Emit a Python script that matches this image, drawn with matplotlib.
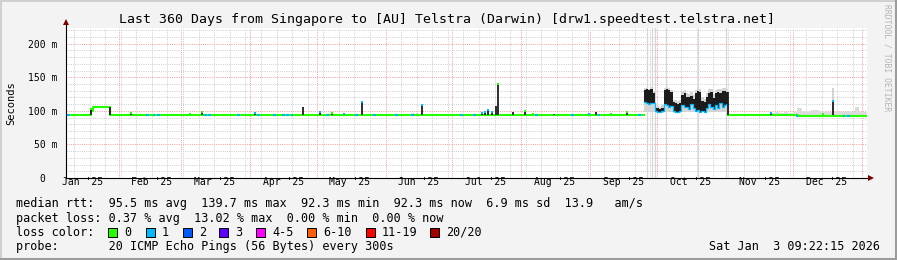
import matplotlib
matplotlib.use("Agg")
import matplotlib.pyplot as plt
import matplotlib.dates as mdates
from matplotlib.lines import Line2D
from matplotlib.patches import Rectangle
from matplotlib.ticker import MultipleLocator, FuncFormatter
import numpy as np
import pandas as pd

W, H = 897, 260
MONO = "DejaVu Sans Mono"

t_end = pd.Timestamp("2026-01-03 09:22:15")
t_start = t_end - pd.Timedelta(days=360)

title = "Last 360 Days from Singapore to [AU] Telstra (Darwin) [drw1.speedtest.telstra.net]"

# loss colours
loss_labels = ["0", "1", "2", "3", "4-5", "6-10", "11-19", "20/20"]
loss_colors = ["#26ff00", "#00b8ff", "#0059ff", "#5e00ff", "#ff00ff", "#ff5e00", "#ff0000", "#a10000"]

# median rtt with 0 loss, step series (ms); NaN where the busy period is drawn
green_dates = ["2025-01-08 09:22", "2025-01-19 18:00", "2025-01-20 12:00", "2025-01-28 03:00",
               "2025-09-25 00:00", "2025-11-02 00:00", "2025-12-03 06:00", "2026-01-03 09:22"]
green_ms = [93.5, 100, 105, 93.5, np.nan, 93.5, 92.3, 92.3]

# short stretches of the median with 1 lost ping
blue_dates = ["2025-01-09 12:00", "2025-02-14", "2025-02-17", "2025-02-19", "2025-03-12", "2025-03-14",
              "2025-03-27", "2025-04-05", "2025-04-12", "2025-04-16", "2025-04-18", "2025-04-20",
              "2025-05-06", "2025-05-19", "2025-05-27", "2025-06-06", "2025-06-13", "2025-07-05",
              "2025-07-11", "2025-08-08", "2025-08-24", "2025-09-05", "2025-09-23",
              "2025-12-03", "2025-12-24", "2025-12-26"]
blue_ms = [93.5] * 23 + [92.3] * 3

# dark smoke spikes: date, top (ms), loss colour of the tip (-1 = none)
spike_dates = ["2025-01-19 20:00", "2025-01-28 01:00", "2025-02-06 10:00", "2025-03-04 22:00",
               "2025-03-10 12:00", "2025-04-03 12:00", "2025-04-24 18:00", "2025-05-02 12:00",
               "2025-05-08 00:00", "2025-05-13 12:00", "2025-05-21 12:00", "2025-06-17 12:00",
               "2025-07-14 12:00", "2025-07-15 18:00", "2025-07-17 00:00", "2025-07-18 18:00",
               "2025-07-20 12:00", "2025-07-21 12:00", "2025-07-28 12:00", "2025-08-02 12:00",
               "2025-08-06 12:00", "2025-08-15 12:00", "2025-08-31 12:00", "2025-09-03 12:00",
               "2025-09-10 12:00", "2025-09-17 12:00", "2025-11-02 00:00", "2025-11-21 06:00",
               "2025-12-14 18:00", "2025-12-19 00:00"]
spike_top = [103, 105, 97, 95, 98, 97, 106, 98, 97, 96, 113, 108, 97, 98, 101, 98,
             107, 139.7, 98, 100, 95, 96, 95, 99, 95, 99, 128, 97.5, 96, 115]
spike_tip = [0, -1, 0, 0, 0, 1, -1, 1, 0, 1, 1, 1, 1, 1, 1, 1,
             -1, 0, -1, 0, 0, -1, 1, -1, 0, 0, -1, 1, 0, 1]

# light smoke spikes (ms)
haze_spike_dates = ["2025-06-13 12:00", "2025-06-15 06:00", "2025-12-19 00:00"]
haze_spike_top = [97, 97.5, 134]

# busy period, one value per day from Sep 25 to Nov 1
busy_start = "2025-09-25"
busy_top = [131, 132, 131, 133, 127, 104, 104, 103, 104, 131, 133, 131, 128, 113, 112, 110, 112, 124, 126,
            121, 120, 122, 118, 126, 130, 128, 114, 113, 120, 127, 128, 119, 126, 128, 127, 129, 130, 128]
busy_med = [113, 112, 110, 112, 111, 100, 99, 99, 100, 110, 108, 106, 107, 100, 99, 98, 100, 108, 105,
            106, 103, 110, 104, 100, 101, 99, 100, 99, 104, 110, 106, 103, 108, 104, 112, 106, 108, 110]
busy_haze = [134, 134, 133, 135, 130, 106, 107, 106, 108, 134, 135, 134, 131, 116, 116, 114, 116, 130, 131,
             126, 125, 128, 124, 131, 134, 133, 120, 118, 126, 132, 133, 125, 131, 133, 132, 134, 134, 132]
busy_low = [99, 99, 98, 99, 98, 97, 97, 97, 97, 98, 98, 98, 98, 97, 97, 97, 97, 98, 98,
            98, 98, 98, 98, 98, 98, 98, 98, 97, 98, 98, 98, 98, 98, 98, 98, 98, 98, 98]

# light smoke late in the year
haze_dates = ["2025-11-21", "2025-11-23", "2025-11-25", "2025-11-27", "2025-11-29", "2025-12-01",
              "2025-12-03", "2025-12-05", "2025-12-07", "2025-12-09", "2025-12-11", "2025-12-13",
              "2025-12-15", "2025-12-17", "2025-12-19", "2025-12-21", "2025-12-23", "2025-12-25",
              "2025-12-27", "2025-12-29", "2025-12-31", "2026-01-03 09:22"]
haze_top = [97, 98, 97, 98, 97, 98, 104, 99, 100, 101, 102, 100, 99, 98, 99, 99, 98, 100, 99, 106, 99, 98]

# pings far off scale, full-height light streaks
streak_dates = ["2025-09-26 12:00", "2025-09-28 18:00", "2025-09-30 00:00",
                "2025-10-05 00:00", "2025-10-19 12:00", "2025-11-01 00:00"]

month_labels = ["Jan '25", "Feb '25", "Mar '25", "Apr '25", "May '25", "Jun '25",
                "Jul '25", "Aug '25", "Sep '25", "Oct '25", "Nov '25", "Dec '25"]
label_dates = ["2025-01-16", "2025-02-16", "2025-03-16", "2025-04-16", "2025-05-16", "2025-06-16",
               "2025-07-16", "2025-08-16", "2025-09-16", "2025-10-16", "2025-11-16", "2025-12-16"]

stats_rtt = "median rtt:  95.5 ms avg  139.7 ms max  92.3 ms min  92.3 ms now  6.9 ms sd  13.9   am/s"
stats_loss = "packet loss: 0.37 % avg  13.02 % max  0.00 % min  0.00 % now"
probe_text = "probe:       20 ICMP Echo Pings (56 Bytes) every 300s"
stamp = "Sat Jan  3 09:22:15 2026"


def dn(lst):
    return mdates.date2num(pd.to_datetime(lst, format="mixed").to_numpy())


def fx(px):
    return px / W


def fy(py):
    return 1 - py / H


fig = plt.figure(figsize=(W / 100, H / 100), dpi=100, facecolor="#f3f3f3")
ax = fig.add_axes([fx(66), fy(178), 801 / W, 150 / H])
ax.set_facecolor("white")

x0, x1 = mdates.date2num([t_start.to_pydatetime(), t_end.to_pydatetime()])
ax.set_xlim(x0, x1)
ax.set_ylim(0, 223.4)

# grid
ax.xaxis.set_major_locator(mdates.MonthLocator())
ax.xaxis.set_minor_locator(mdates.WeekdayLocator(byweekday=mdates.SU))
ax.yaxis.set_major_locator(MultipleLocator(50))
ax.yaxis.set_minor_locator(MultipleLocator(10))
ax.grid(which="minor", color="#cfcfcf", lw=0.72, ls=(0, (1, 1.2)))
ax.grid(which="major", color="#f0a0a0", lw=0.72, ls=(0, (1, 1.2)))
ax.set_axisbelow(True)
ax.tick_params(which="both", length=0)
ax.tick_params(axis="x", labelbottom=False)
ax.yaxis.set_major_formatter(FuncFormatter(lambda v, _: "0  " if v == 0 else f"{int(v)} m"))
ax.tick_params(axis="y", pad=6.0, labelsize=7)
for lab in ax.get_yticklabels():
    lab.set_fontfamily(MONO)
for s in ax.spines.values():
    s.set_visible(False)

# far off-scale streaks
for d in dn(streak_dates):
    ax.axvline(d, color="#d6d6d6", lw=0.9, zorder=1)

# late-year light smoke
hz_x = dn(haze_dates)
ax.fill_between(hz_x, 92.3, haze_top, step="post", color="#dcdcdc", lw=0, zorder=2)
ax.vlines(dn(haze_spike_dates), 93, haze_spike_top, color="#cfcfcf", lw=1.3, zorder=2)

# busy period
bx = mdates.date2num(pd.date_range(busy_start, periods=len(busy_top) + 1, freq="D").to_numpy())
ext = lambda v: np.append(v, v[-1])
ax.fill_between(bx, ext(busy_low), ext(busy_haze), step="post", color="#d4d4d4", lw=0, zorder=2)
ax.fill_between(bx, ext(busy_med), ext(busy_top), step="post", color="#1c1c1c", lw=0, zorder=3)
ax.step(bx, ext(busy_med), where="post", color=loss_colors[1], lw=0.9, zorder=4)

# median line, loss 0
ax.step(dn(green_dates), green_ms, where="post", color=loss_colors[0], lw=1.5, zorder=5)

# median stretches with loss 1
bd = dn(blue_dates)
ax.hlines(blue_ms, bd - 0.6, bd + 0.6, color=loss_colors[1], lw=1.5, zorder=6)

# dark spikes and their tips
sd = dn(spike_dates)
ax.vlines(sd, 93.5, spike_top, color="#1c1c1c", lw=1.3, zorder=6)
for d, t, c in zip(sd, spike_top, spike_tip):
    if c >= 0:
        ax.plot([d], [t], marker="s", ms=1.8, mew=0, color=loss_colors[c], zorder=7)

# axis lines with arrows
ax.plot([0, 0], [0, 1 + 6 / 150], transform=ax.transAxes, color="black", lw=0.8, clip_on=False, zorder=8)
ax.plot([0, 1 + 4 / 801], [0, 0], transform=ax.transAxes, color="black", lw=0.8, clip_on=False, zorder=8)
ax.plot([0], [1 + 6 / 150], marker="^", ms=4, color="#7f0000", mew=0, transform=ax.transAxes, clip_on=False, zorder=9)
ax.plot([1 + 4 / 801], [0], marker=">", ms=4, color="#7f0000", mew=0, transform=ax.transAxes, clip_on=False, zorder=9)

# month labels
for lab, d in zip(month_labels, dn(label_dates)):
    ax.text(d, -6.5, lab, ha="center", va="center", fontsize=7, family=MONO,
            transform=ax.transData, clip_on=False)

# title, axis label, watermark
fig.text(fx(447), fy(19), title, ha="center", va="center", fontsize=9.5, family=MONO)
fig.text(fx(11), fy(103), "Seconds", ha="center", va="center", rotation=90, fontsize=7.5, family=MONO)
fig.text(fx(887), fy(58), "RRDTOOL / TOBI OETIKER", ha="center", va="center", rotation=-90,
         fontsize=5.8, family=MONO, color="#b4b4b4")

# legend block
LS = 8.5
fig.text(fx(16), fy(204), stats_rtt, ha="left", va="center", fontsize=LS, family=MONO)
fig.text(fx(16), fy(218.5), stats_loss, ha="left", va="center", fontsize=LS, family=MONO)
fig.text(fx(16), fy(232), "loss color:", ha="left", va="center", fontsize=LS, family=MONO)
box_x = [108, 146, 183, 219, 256, 307, 366, 430]
for bxp, lab, col in zip(box_x, loss_labels, loss_colors):
    fig.add_artist(Rectangle((fx(bxp), fy(236.5)), 8.5 / W, 8.5 / H, facecolor=col,
                             edgecolor="black", lw=0.7, transform=fig.transFigure))
    fig.text(fx(bxp + 16), fy(232), lab, ha="left", va="center", fontsize=LS, family=MONO)
fig.text(fx(16), fy(246.5), probe_text, ha="left", va="center", fontsize=LS, family=MONO)
fig.text(fx(880), fy(246.5), stamp, ha="right", va="center", fontsize=LS, family=MONO)

# frame
fig.add_artist(Line2D([0, 1], [fy(1), fy(1)], color="#d0d0d0", lw=1.4, transform=fig.transFigure))
fig.add_artist(Line2D([fx(1), fx(1)], [0, 1], color="#d0d0d0", lw=1.4, transform=fig.transFigure))
fig.add_artist(Line2D([0, 1], [fy(258.5), fy(258.5)], color="#9c9c9c", lw=2.2, transform=fig.transFigure))
fig.add_artist(Line2D([fx(895.5), fx(895.5)], [0, 1], color="#9c9c9c", lw=2.2, transform=fig.transFigure))

fig.savefig("out.png", dpi=100, facecolor=fig.get_facecolor())
